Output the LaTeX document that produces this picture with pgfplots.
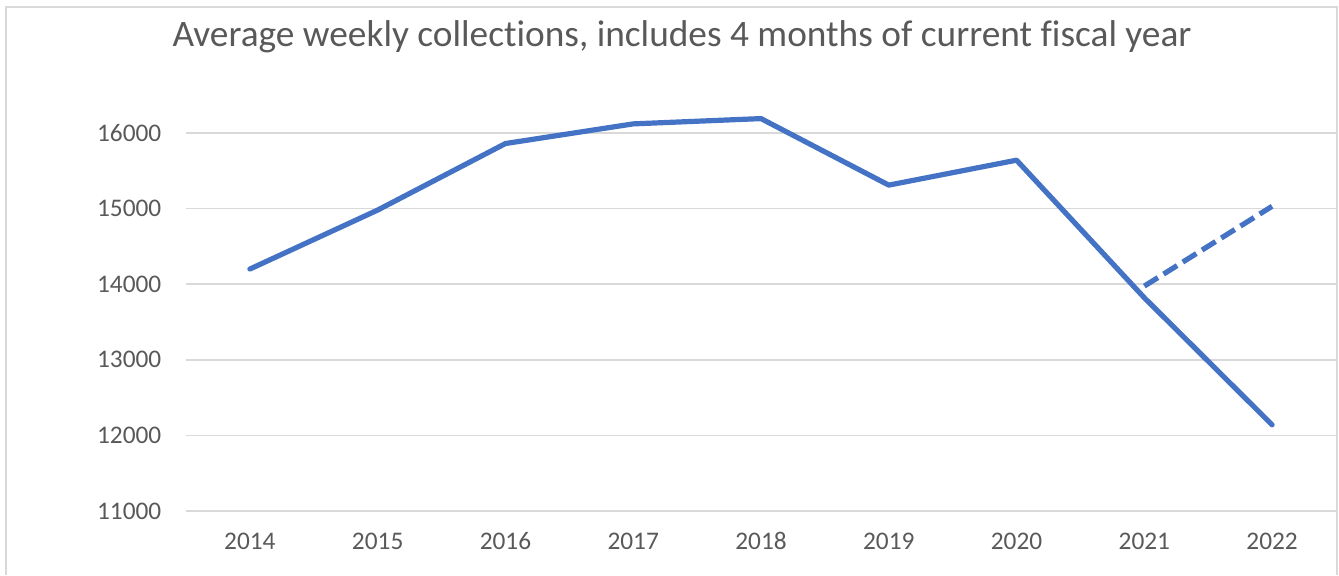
\documentclass[border=0pt]{standalone}
\usepackage{pgfplots}
\pgfplotsset{compat=1.18}
\usepackage{fontspec}
\setmainfont{Carlito}[Ligatures={NoCommon,NoRare}]
\definecolor{exblue}{RGB}{68,114,196}
\definecolor{txtgray}{RGB}{89,89,89}
\definecolor{gridgray}{RGB}{217,217,217}
\begin{document}
\begin{tikzpicture}[x=0.75pt,y=0.75pt]
\path[use as bounding box] (0,0) rectangle (1339,575);
\draw[gridgray,line width=1.5pt] (6,0) -- (6,568) -- (1337,568) -- (1337,0);
\node[txtgray,font=\fontsize{28}{33}\selectfont] at (682,538) {Average weekly collections, includes 4 months of current fiscal year};
\begin{axis}[
  at={(186*0.75pt,64*0.75pt)}, anchor=south west,
  scale only axis, width=862.5pt, height=328.9pt,
  xmin=-0.5, xmax=8.5, ymin=11000, ymax=16800,
  axis line style={draw=none},
  major tick length=0pt,
  ymajorgrids, grid style={gridgray,line width=1.2pt},
  ytick={11000,12000,13000,14000,15000,16000},
  xtick={0,...,8},
  xticklabels={2014,2015,2016,2017,2018,2019,2020,2021,2022},
  /pgf/number format/assume math mode=true,
  /pgf/number format/1000 sep={},
  scaled y ticks=false,
  tick label style={font=\fontsize{19}{22}\selectfont, text=txtgray},
  yticklabel style={xshift=-15pt},
  xticklabel style={anchor=north, text depth=0pt, text height=9pt, yshift=-16pt},
  clip=false,
]
\addplot[exblue, line width=3.9pt, line cap=round, line join=round] coordinates {
(0,14200) (1,14980) (2,15860) (3,16120) (4,16190) (5,15310) (6,15640) (7,13820) (8,12140)};
\addplot[exblue, line width=3.9pt, dash pattern=on 12pt off 5pt] coordinates {
(7,13975) (8,15030)};
\end{axis}
\end{tikzpicture}
\end{document}
